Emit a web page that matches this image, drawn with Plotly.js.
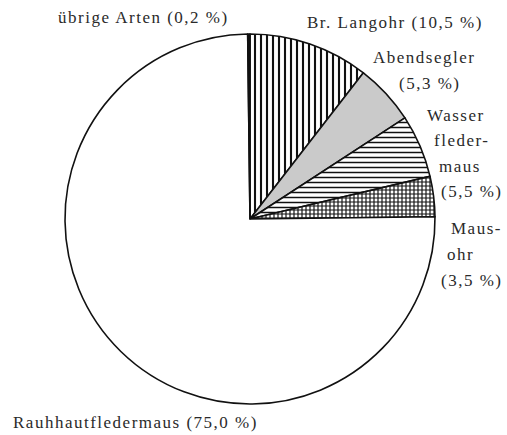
<!DOCTYPE html>
<html>
<head>
<meta charset="utf-8">
<script src="https://cdn.plot.ly/plotly-3.0.1.min.js"></script>
<style>
html,body{margin:0;padding:0;background:#fff;}
#chart{width:507px;height:435px;}
svg text{letter-spacing:1.5px;}
</style>
</head>
<body>
<div id="chart"></div>
<script>
var categories = ["Br. Langohr", "Abendsegler", "Wasserfledermaus", "Mausohr", "Rauhhautfledermaus", "übrige Arten"];
var shares = [10.5, 5.3, 5.5, 3.5, 75.0, 0.2];
var labelTexts = ["übrige Arten (0,2 %)", "Br. Langohr (10,5 %)", "Abendsegler", "(5,3 %)", "Wasser", "fleder-", "maus", "(5,5 %)", "Maus-", "ohr", "(3,5 %)", "Rauhhautfledermaus (75,0 %)"];

var W = 507, H = 435;
var cx = 250, cy = 219, r = 185;

var labelPos = [
  [143, 17], [395, 23], [424, 58], [429, 83], [456, 115], [461, 140], [460, 166],
  [471, 191], [476, 228], [460, 255], [471, 280], [135, 422]
];

var annotations = labelTexts.map(function (t, i) {
  return {
    text: t, xref: 'paper', yref: 'paper',
    x: labelPos[i][0] / W, y: 1 - labelPos[i][1] / H,
    xanchor: 'center', yanchor: 'middle', showarrow: false,
    font: {family: 'Liberation Serif, Times New Roman, serif', size: 17, color: '#2a2a2a'}
  };
});

var trace = {
  type: 'pie',
  labels: categories,
  values: shares,
  sort: false,
  direction: 'clockwise',
  rotation: 0,
  textinfo: 'none',
  hoverinfo: 'none',
  showlegend: false,
  domain: {x: [(cx - r) / W, (cx + r) / W], y: [1 - (cy + r) / H, 1 - (cy - r) / H]},
  marker: {
    colors: ['#ffffff', '#cacaca', '#ffffff', '#ffffff', '#ffffff', '#111111'],
    line: {color: '#111111', width: 1.6},
    pattern: {
      shape: ['|', '', '-', '+', '', ''],
      fgcolor: ['#111111', '#111111', '#111111', '#111111', '#111111', '#111111'],
      bgcolor: ['#ffffff', '#cacaca', '#ffffff', '#ffffff', '#ffffff', '#111111'],
      size: [6, 8, 5, 4, 8, 8],
      solidity: [0.35, 0.3, 0.3, 0.5, 0.3, 0.3]
    }
  }
};

Plotly.newPlot('chart', [trace], {
  width: W, height: H,
  margin: {l: 0, r: 0, t: 0, b: 0},
  paper_bgcolor: '#ffffff',
  plot_bgcolor: '#ffffff',
  annotations: annotations
}, {staticPlot: true, displayModeBar: false});
</script>
</body>
</html>
